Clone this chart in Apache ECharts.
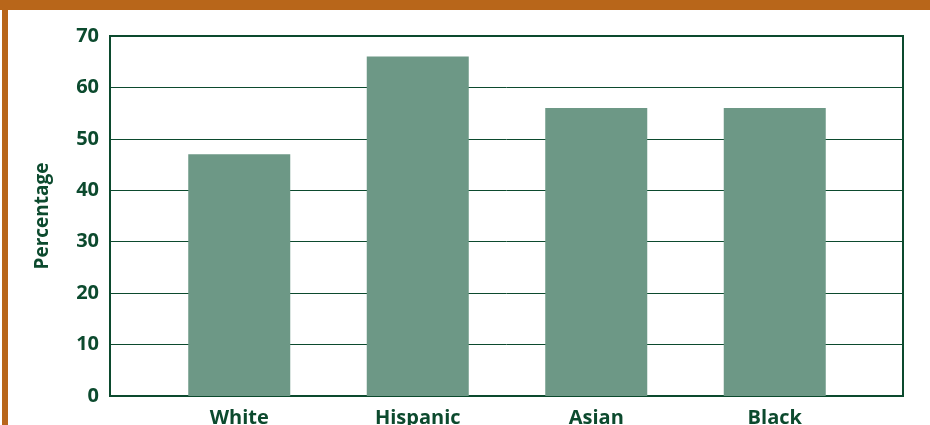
<!DOCTYPE html>
<html>
<head>
<meta charset="utf-8">
<style>
  html, body { margin: 0; padding: 0; background: #ffffff; }
  #wrap { position: relative; width: 930px; height: 425px; overflow: hidden; }
  #topband { position: absolute; left: 0; top: 0; width: 930px; height: 10px; background: #b8661a; }
  #leftband { position: absolute; left: 2px; top: 0; width: 6px; height: 425px; background: #b8661a; }
  #chart { position: absolute; left: 0; top: 0; width: 930px; height: 425px; }
</style>
<script src="https://cdn.jsdelivr.net/npm/echarts@6/dist/echarts.min.js"></script>
</head>
<body>
<div id="wrap">
  <div id="chart"></div>
  <div id="topband"></div>
  <div id="leftband"></div>
</div>
<script>
  // Share of each group, in percent
  const categories = ['White', 'Hispanic', 'Asian', 'Black'];
  const percentages = [47, 66, 56, 56];
  const yTicks = [0, 10, 20, 30, 40, 50, 60, 70];

  const dark = '#0c4a2e';
  const barColor = '#6d9886';
  const font = '"Open Sans", "Noto Sans", sans-serif';

  const chart = echarts.init(document.getElementById('chart'), null, { renderer: 'canvas' });

  chart.setOption({
    animation: false,
    backgroundColor: 'transparent',
    grid: [
      // frame with the gridlines and value labels
      { left: 110, right: 27, top: 36, bottom: 29, show: true, borderColor: dark, borderWidth: 2,
        backgroundColor: 'transparent', outerBoundsMode: 'none' },
      // inner band holding the bars
      { left: 150, right: 66, top: 36, bottom: 29, outerBoundsMode: 'none' }
    ],
    xAxis: [
      {
        gridIndex: 0, type: 'category', data: categories,
        axisLine: { show: true, lineStyle: { color: dark, width: 2 } },
        axisTick: { show: false }, axisLabel: { show: false }, splitLine: { show: false }
      },
      {
        gridIndex: 1, type: 'category', data: categories,
        axisLine: { show: false }, axisTick: { show: false },
        axisLabel: { color: dark, fontFamily: font, fontWeight: 'bold', fontSize: 20, margin: 12 }
      }
    ],
    yAxis: [
      {
        gridIndex: 0, type: 'value', min: yTicks[0], max: yTicks[yTicks.length - 1], interval: 10,
        name: 'Percentage', nameLocation: 'middle', nameGap: 58, nameRotate: 90,
        nameTextStyle: { color: dark, fontFamily: font, fontWeight: 'bold', fontSize: 19 },
        axisLine: { show: true, lineStyle: { color: dark, width: 2 } },
        axisTick: { show: false },
        axisLabel: { color: dark, fontFamily: font, fontWeight: 'bold', fontSize: 20, margin: 11 },
        splitLine: { show: true, lineStyle: { color: dark, width: 1 } }
      },
      {
        gridIndex: 1, type: 'value', min: yTicks[0], max: yTicks[yTicks.length - 1], interval: 10,
        show: false, splitLine: { show: false }
      }
    ],
    series: [
      {
        type: 'bar', xAxisIndex: 1, yAxisIndex: 1,
        data: percentages, barWidth: 102,
        itemStyle: { color: barColor }
      }
    ]
  });
</script>
</body>
</html>
